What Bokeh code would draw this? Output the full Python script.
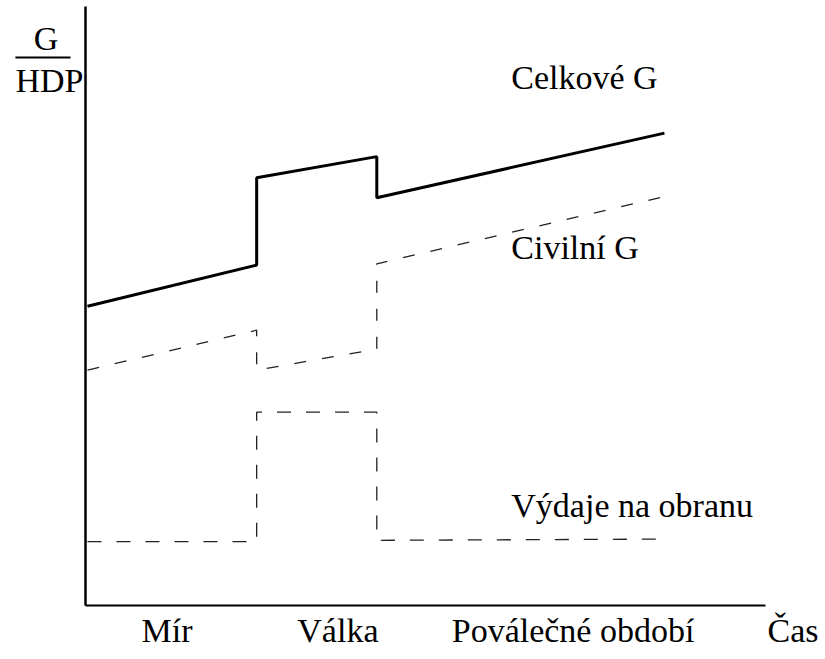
from bokeh.plotting import figure
from bokeh.models import Range1d, FixedTicker
from bokeh.core.properties import value
from bokeh.embed import file_html
from bokeh.resources import INLINE

# ---- data (time in periods, G/HDP in arbitrary units) ----
period_edges = [0, 10, 17.1, 34.1]          # start, war start, war end, end
total_g = [71.2, 81.0, 101.8, 106.8, 97.0, 112.4]   # peace start/end, war start/end, post start/end
civil_g = [56.0, 65.5, 56.0, 61.0, 81.3, 97.3]
defense_g = [15.2, 15.2, 46.0, 46.0, 15.5, 15.8]

period_labels = ["Mír", "Válka", "Poválečné období"]
period_label_x = [4.7, 14.8, 28.7]
series_labels = ["Celkové G", "Civilní G", "Výdaje na obranu"]
series_label_y = [121.2, 80.8, 19.4]

def step_x(edges):
    return [edges[0], edges[1], edges[1], edges[2], edges[2], edges[3]]

xs = step_x(period_edges)

FS = "34px"

p = figure(width=825, height=659, output_backend="svg", toolbar_location=None,
           x_range=Range1d(-5.14, 43.62), y_range=Range1d(-12.85, 143.95),
           min_border=0, min_border_left=0, min_border_right=0,
           min_border_top=0, min_border_bottom=0)
p.outline_line_color = None
p.grid.visible = False
p.background_fill_color = "white"

for ax in (p.xaxis[0], p.yaxis[0]):
    ax.ticker = FixedTicker(ticks=[])
    ax.major_tick_out = 0
    ax.major_tick_in = 0
    ax.minor_tick_out = 0
    ax.minor_tick_in = 0
    ax.major_label_text_font_size = "0px"
    ax.major_label_standoff = 0
    ax.axis_line_color = "black"

p.xaxis[0].fixed_location = 0
p.xaxis[0].bounds = (-0.1, 40.07)
p.xaxis[0].axis_line_width = 2
p.yaxis[0].fixed_location = -0.1
p.yaxis[0].bounds = (0, 142.6)
p.yaxis[0].axis_line_width = 2.5

# lines
p.line(xs, total_g, line_color="black", line_width=3)
p.line(xs, civil_g, line_color="#222222", line_width=1.3, line_dash="12 16")
p.line(xs, defense_g, line_color="#222222", line_width=1.3, line_dash="14 15")

# series labels
p.text(x=[25.05] * 3, y=series_label_y, text=series_labels,
       text_font=value("Liberation Serif"), text_font_size=FS, text_align="left")

# period labels + time label
p.text(x=period_label_x + [41.7], y=[-10.3] * 4, text=period_labels + ["Čas"],
       text_font=value("Liberation Serif"), text_font_size=FS, text_align="center")

# y-axis fraction label G / HDP
p.text(x=[-2.45], y=[130.6], text=["G"], text_font=value("Liberation Serif"),
       text_font_size=FS, text_align="center")
p.line([-4.26, -1.0], [130.4, 130.4], line_color="black", line_width=2)
p.text(x=[-2.25], y=[120.6], text=["HDP"], text_font=value("Liberation Serif"),
       text_font_size=FS, text_align="center")

open("out.html", "w").write(file_html(p, INLINE))
